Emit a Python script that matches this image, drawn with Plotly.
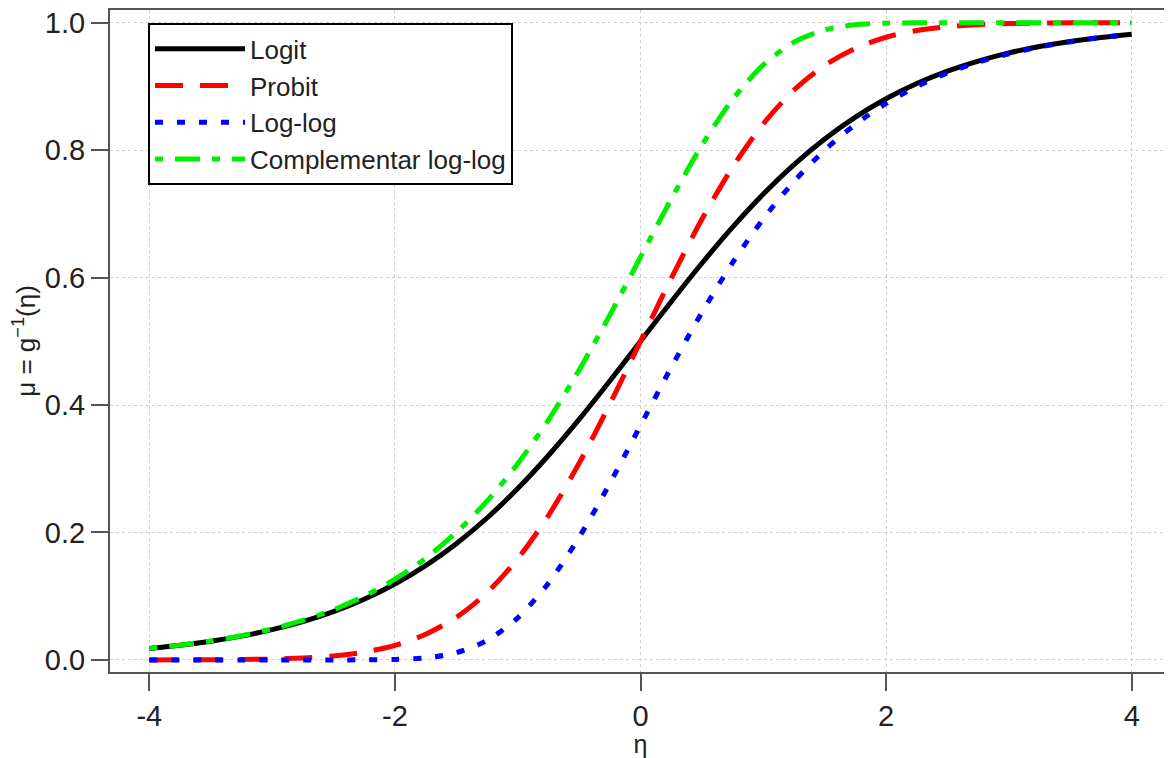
import plotly.graph_objects as go

eta = [-4, -3.75, -3.5, -3.25, -3, -2.75, -2.5, -2.25, -2, -1.75, -1.5, -1.25, -1, -0.75, -0.5, -0.25,
       0, 0.25, 0.5, 0.75, 1, 1.25, 1.5, 1.75, 2, 2.25, 2.5, 2.75, 3, 3.25, 3.5, 3.75, 4]

logit = [0.0180, 0.0230, 0.0293, 0.0373, 0.0474, 0.0601, 0.0759, 0.0953, 0.1192, 0.1480, 0.1824, 0.2227,
         0.2689, 0.3208, 0.3775, 0.4378, 0.5000, 0.5622, 0.6225, 0.6792, 0.7311, 0.7773, 0.8176, 0.8520,
         0.8808, 0.9047, 0.9241, 0.9399, 0.9526, 0.9627, 0.9707, 0.9770, 0.9820]

probit = [0.0000, 0.0001, 0.0002, 0.0006, 0.0013, 0.0030, 0.0062, 0.0122, 0.0228, 0.0401, 0.0668, 0.1056,
          0.1587, 0.2266, 0.3085, 0.4013, 0.5000, 0.5987, 0.6915, 0.7734, 0.8413, 0.8944, 0.9332, 0.9599,
          0.9772, 0.9878, 0.9938, 0.9970, 0.9987, 0.9994, 0.9998, 0.9999, 1.0000]

loglog = [0.0000, 0.0000, 0.0000, 0.0000, 0.0000, 0.0000, 0.0000, 0.0001, 0.0006, 0.0032, 0.0113, 0.0305,
          0.0660, 0.1204, 0.1923, 0.2769, 0.3679, 0.4590, 0.5452, 0.6235, 0.6922, 0.7509, 0.8000, 0.8405,
          0.8734, 0.9000, 0.9212, 0.9381, 0.9514, 0.9620, 0.9702, 0.9768, 0.9819]

cloglog = [0.0181, 0.0232, 0.0298, 0.0380, 0.0486, 0.0619, 0.0788, 0.1000, 0.1266, 0.1595, 0.2000, 0.2491,
           0.3078, 0.3765, 0.4548, 0.5410, 0.6321, 0.7231, 0.8077, 0.8796, 0.9340, 0.9695, 0.9887, 0.9968,
           0.9994, 0.9999, 1.0000, 1.0000, 1.0000, 1.0000, 1.0000, 1.0000, 1.0000]

series_names = ["Logit", "Probit", "Log-log", "Complementar log-log"]
series_values = [logit, probit, loglog, cloglog]
series_colors = ["#000000", "#ff0000", "#0000ff", "#00ee00"]
series_dash = ["solid", "28px,17px", "8px,14px", "8px,12px,25px,12px"]

x_ticks = [-4, -2, 0, 2, 4]
x_tick_labels = ["-4", "-2", "0", "2", "4"]
y_ticks = [0.0, 0.2, 0.4, 0.6, 0.8, 1.0]
y_tick_labels = ["0.0", "0.2", "0.4", "0.6", "0.8", "1.0"]

FONT = "Arial, 'Liberation Sans', sans-serif"
TXT = "#222222"

fig = go.Figure()
for name, vals, col, dash in zip(series_names, series_values, series_colors, series_dash):
    fig.add_trace(go.Scatter(
        x=eta, y=vals, mode="lines", name=name,
        line=dict(color=col, width=5, dash=dash, shape="spline", smoothing=0.8),
    ))

axis_common = dict(
    showline=True, mirror=True, linecolor="#555555", linewidth=2,
    ticks="outside", ticklen=17, tickwidth=2, tickcolor="#555555",
    showgrid=True, gridcolor="#cfcfcf", griddash="dot", gridwidth=1,
    zeroline=False, automargin=False, ticklabeloverflow="allow",
    tickfont=dict(family=FONT, size=29, color=TXT),
)

# The page body has an 8px margin, so the figure is sized to fill the rest of the window.
fig.update_layout(
    width=1164, height=750,
    margin=dict(l=102, r=1, t=2, b=86),
    paper_bgcolor="white", plot_bgcolor="white",
    font=dict(family=FONT, color=TXT),
    xaxis=dict(range=[-4.32, 4.32], tickvals=x_ticks, ticktext=x_tick_labels,
               title=dict(text="η", font=dict(family=FONT, size=25, color=TXT), standoff=0),
               **axis_common),
    yaxis=dict(range=[-0.019, 1.02], tickvals=y_ticks, ticktext=y_tick_labels,
               title=dict(text="μ = g<sup>−1</sup>(η)", font=dict(family=FONT, size=26, color=TXT), standoff=2),
               **axis_common),
    legend=dict(
        x=0.0358, y=0.98, xanchor="left", yanchor="top",
        bordercolor="#000000", borderwidth=2, bgcolor="white",
        font=dict(family=FONT, size=26, color=TXT),
        tracegroupgap=0, itemwidth=90,
    ),
    showlegend=True,
)

fig.write_html("out.html")
